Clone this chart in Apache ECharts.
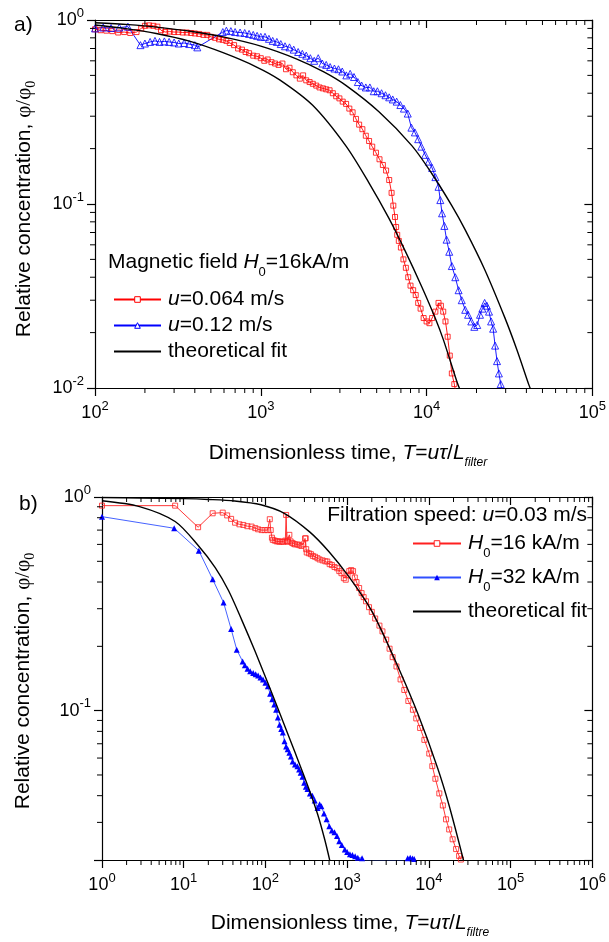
<!DOCTYPE html>
<html><head><meta charset="utf-8">
<script src="https://cdn.jsdelivr.net/npm/echarts@6/dist/echarts.min.js"></script>
<style>html,body{margin:0;padding:0;background:#fff}#c{width:609px;height:942px}</style>
</head><body><div id="c"></div>
<script>
// ---------- Panel a) : Magnetic field H0 = 16 kA/m ----------
const aRedT = [100,108,117,127,138,150,163,178,190,200,212,225,238,250,265,282,300,318,338,358,380,400,425,450,475,500,530,560,590,620,650,690,730,770,810,850,900,950,1000,1050,1100,1160,1220,1280,1350,1420,1490,1560,1640,1720,1800,1880,1970,2060,2160,2260,2370,2480,2600,2720,2850,2980,3120,3270,3420,3580,3750,3920,4100,4300,4500,4700,4950,5200,5450,5700,5950,6150,6300,6450,6550,6650,6800,7000,7250,7500,7750,8000,8300,8600,8900,9200,9600,10000,10400,10800,11300,11800,12200,12600,13000,13400,13800,14200,14700,15000];
const aRedC = [0.89,0.88,0.875,0.87,0.855,0.86,0.85,0.86,0.90,0.93,0.935,0.93,0.92,0.88,0.86,0.865,0.86,0.86,0.855,0.855,0.85,0.845,0.84,0.83,0.83,0.81,0.80,0.785,0.78,0.77,0.75,0.73,0.70,0.69,0.67,0.66,0.64,0.635,0.62,0.60,0.61,0.59,0.58,0.57,0.58,0.54,0.55,0.52,0.50,0.48,0.50,0.47,0.46,0.45,0.44,0.43,0.425,0.42,0.415,0.40,0.385,0.375,0.36,0.35,0.33,0.315,0.29,0.27,0.255,0.235,0.22,0.205,0.19,0.175,0.163,0.152,0.135,0.115,0.098,0.085,0.075,0.068,0.063,0.058,0.050,0.045,0.040,0.036,0.034,0.032,0.029,0.027,0.024,0.023,0.0225,0.024,0.026,0.029,0.028,0.026,0.023,0.019,0.015,0.012,0.0105,0.0095];
const aBlueT = [100,112,125,140,158,188,200,215,230,245,262,280,300,320,345,370,400,414,590,620,660,700,750,800,850,900,950,1000,1060,1120,1180,1250,1320,1400,1490,1580,1680,1780,1880,1990,2100,2220,2350,2480,2620,2780,2940,3100,3280,3460,3650,3850,4060,4300,4550,4800,5050,5350,5650,5950,6250,6600,6950,7300,7700,8100,8500,8900,9300,9800,10300,10800,11300,11800,12100,12400,12800,13200,13700,14200,14900,15600,16300,17100,17800,18600,19400,20200,21000,21700,22400,23100,23800,24500,25200,25900,26600,27300,28000,28600];
const aBlueC = [0.90,0.91,0.905,0.91,0.92,0.73,0.745,0.76,0.77,0.76,0.765,0.76,0.755,0.745,0.75,0.74,0.73,0.71,0.86,0.875,0.87,0.86,0.855,0.85,0.84,0.83,0.82,0.81,0.81,0.79,0.77,0.76,0.74,0.72,0.71,0.69,0.67,0.655,0.64,0.62,0.60,0.62,0.58,0.57,0.555,0.545,0.54,0.525,0.50,0.51,0.49,0.46,0.44,0.43,0.43,0.41,0.41,0.40,0.39,0.38,0.37,0.36,0.345,0.33,0.31,0.26,0.245,0.225,0.205,0.185,0.17,0.157,0.14,0.124,0.105,0.089,0.076,0.064,0.055,0.046,0.040,0.034,0.030,0.0266,0.025,0.023,0.0215,0.022,0.025,0.027,0.029,0.028,0.026,0.023,0.021,0.017,0.014,0.012,0.0105,0.0096];
const aFit1T = [100,150,234,371,592,937,1300,2056,3260,4500,5920,7450,9380,11270,12650,15300,15900];
const aFit1C = [0.940,0.900,0.845,0.767,0.664,0.557,0.473,0.344,0.207,0.130,0.0838,0.0553,0.0353,0.0240,0.0182,0.0107,0.0098];
const aFit2T = [100,160,250,376,592,1000,1637,2400,3260,5160,8170,10770,14190,17100,22400,29600,35000,41400,42500];
const aFit2C = [0.967,0.944,0.909,0.868,0.809,0.721,0.615,0.522,0.441,0.317,0.207,0.146,0.098,0.0724,0.0441,0.0242,0.0162,0.0104,0.0098];

// ---------- Panel b) : Filtration speed u = 0.03 m/s ----------
const bRedT = [1,7.85,15,22.6,30,34,38,42.5,48,53.6,60,67.6,75,81.3,90,97.8,106,113,116,120,123,130,137,143,149,158,166,175,179,183,188,196,203,212,220,230,245,260,275,290,305,311,315,320,340,360,380,405,433,460,500,540,571,610,650,700,755,800,850,910,960,1010,1060,1120,1180,1240,1300,1400,1500,1590,1700,1850,2000,2200,2480,2700,3000,3300,3600,4010,4500,5000,5600,6370,7000,7800,8800,10100,11000,12000,13400,14800,16200,17700,19500,21500,23400,24600];
const bRedC = [0.911,0.911,0.722,0.839,0.845,0.82,0.79,0.758,0.745,0.74,0.73,0.727,0.715,0.706,0.70,0.70,0.70,0.787,0.70,0.645,0.63,0.625,0.62,0.62,0.618,0.618,0.617,0.625,0.824,0.62,0.618,0.665,0.62,0.61,0.605,0.60,0.60,0.595,0.59,0.60,0.64,0.641,0.57,0.55,0.545,0.54,0.53,0.525,0.517,0.51,0.505,0.50,0.499,0.485,0.48,0.47,0.464,0.45,0.44,0.417,0.41,0.43,0.45,0.455,0.45,0.42,0.40,0.375,0.355,0.34,0.325,0.305,0.29,0.27,0.25,0.235,0.215,0.195,0.178,0.161,0.14,0.125,0.111,0.101,0.092,0.083,0.073,0.063,0.055,0.048,0.041,0.036,0.031,0.0278,0.025,0.0225,0.0209,0.0201];
const bBlueT = [1,7.64,15.3,22.6,30.7,38,44.5,52.6,56,60.4,65,70.8,76,81.3,87,93.3,100,107,114,121,128,135,142,149,156,163,171,179,187,196,205,215,230,246,258,270,284,298,312,327,350,375,400,433,460,483,520,560,604,650,700,751,800,860,935,1000,1080,1160,1250,1350,1520,1650,5250,5500,5900,6300,6600,6900];
const bBlueC = [0.809,0.714,0.561,0.412,0.321,0.241,0.193,0.17,0.163,0.157,0.153,0.15,0.148,0.146,0.143,0.14,0.135,0.13,0.12,0.113,0.107,0.101,0.093,0.086,0.082,0.079,0.072,0.068,0.066,0.0636,0.061,0.0578,0.056,0.055,0.053,0.0512,0.049,0.046,0.044,0.043,0.041,0.040,0.038,0.035,0.0365,0.0357,0.033,0.031,0.0288,0.0275,0.027,0.0259,0.0245,0.0235,0.0224,0.0218,0.0213,0.0211,0.0208,0.0205,0.0204,0.0198,0.0198,0.0204,0.0205,0.0203,0.0202,0.0198];
const bFit1T = [1,2.88,7.85,15.3,24.4,35.3,51.2,74.2,107,156,226,337,433,530,620];
const bFit1C = [0.961,0.902,0.768,0.588,0.466,0.365,0.266,0.1905,0.1346,0.0933,0.0649,0.0435,0.0329,0.0250,0.0195];
const bFit2T = [1,3,10,20,42,88,170,350,603,1043,1790,2300,4200,7340,12800,17700,26900];
const bFit2C = [0.995,0.9894,0.9824,0.974,0.9585,0.920,0.839,0.685,0.553,0.425,0.314,0.264,0.160,0.0964,0.0538,0.0359,0.0195];

// minor tick positions
const aXMinor = [200,300,400,500,600,700,800,900,2000,3000,4000,5000,6000,7000,8000,9000,20000,30000,40000,50000,60000,70000,80000,90000];
const aYMinor = [0.02,0.03,0.04,0.05,0.06,0.07,0.08,0.09,0.2,0.3,0.4,0.5,0.6,0.7,0.8,0.9];
const bXMinor = [2,3,4,5,6,7,8,9,20,30,40,50,60,70,80,90,200,300,400,500,600,700,800,900,2000,3000,4000,5000,6000,7000,8000,9000,20000,30000,40000,50000,60000,70000,80000,90000,200000,300000,400000,500000,600000,700000,800000,900000];
const bYMinor = [0.03,0.04,0.05,0.06,0.07,0.08,0.09,0.2,0.3,0.4,0.5,0.6,0.7,0.8,0.9];

const F = '"Liberation Sans", Arial, sans-serif';
const SERIF = '"Liberation Serif", "Times New Roman", serif';

function pairs(xs, ys) { return xs.map((x, i) => [x, ys[i]]); }

function powLabel(v) {
  const e = Math.log10(v);
  const r = Math.round(e);
  if (Math.abs(e - r) > 1e-6) return '';
  return '{b|10}{s|' + r + '}';
}
const tickRich = {
  b: { fontSize: 18, fontFamily: F, color: '#000' },
  s: { fontSize: 13, fontFamily: F, color: '#000', padding: [0, 0, 14, 0] }
};
const txtRich = {
  n: { fontSize: 21, fontFamily: F, color: '#000' },
  i: { fontSize: 21, fontFamily: F, fontStyle: 'italic', color: '#000' },
  sub: { fontSize: 12, fontFamily: F, fontStyle: 'italic', color: '#000', padding: [19, 0, 0, 0] },
  subn: { fontSize: 13, fontFamily: F, color: '#000', padding: [20, 0, 0, 0] },
  g: { fontSize: 21, fontFamily: SERIF, color: '#000' },
  gs: { fontSize: 14, fontFamily: SERIF, color: '#000', padding: [14, 0, 0, 0] }
};

function mainX(grid, min, max) {
  return { type: 'log', logBase: 10, gridIndex: grid, min, max, position: 'bottom',
    axisLine: { show: true, lineStyle: { color: '#000', width: 1.2 } },
    axisTick: { show: true, inside: false, length: 8, lineStyle: { color: '#000', width: 1.2 } },
    axisLabel: { show: true, formatter: powLabel, rich: tickRich, margin: 12, color: '#000' },
    splitLine: { show: false }, minorTick: { show: false } };
}
function topX(grid, min, max) {
  return { type: 'log', logBase: 10, gridIndex: grid, min, max, position: 'top',
    axisLine: { show: true, lineStyle: { color: '#000', width: 1.2 } },
    axisTick: { show: true, inside: true, length: 8, lineStyle: { color: '#000', width: 1.2 } },
    axisLabel: { show: false }, splitLine: { show: false } };
}
function mainY(grid, min, max) {
  return { type: 'log', logBase: 10, gridIndex: grid, min, max, position: 'left',
    axisLine: { show: true, lineStyle: { color: '#000', width: 1.2 } },
    axisTick: { show: true, inside: false, length: 8, lineStyle: { color: '#000', width: 1.2 } },
    axisLabel: { show: true, formatter: powLabel, rich: tickRich, margin: 11, color: '#000' },
    splitLine: { show: false } };
}
function rightY(grid, min, max) {
  return { type: 'log', logBase: 10, gridIndex: grid, min, max, position: 'right',
    axisLine: { show: true, lineStyle: { color: '#000', width: 1.2 } },
    axisTick: { show: true, inside: true, length: 8, lineStyle: { color: '#000', width: 1.2 } },
    axisLabel: { show: false }, splitLine: { show: false } };
}

function xMinorSeries(xi, yi, vals, yRef) {
  return { type: 'custom', xAxisIndex: xi, yAxisIndex: yi, silent: true, clip: false, z: 5,
    data: vals.map(v => [v, yRef]),
    renderItem: function (params, api) {
      const cs = params.coordSys;
      const px = api.coord([api.value(0), api.value(1)])[0];
      const b = cs.y + cs.height, t = cs.y;
      return { type: 'group', children: [
        { type: 'line', shape: { x1: px, y1: b, x2: px, y2: b + 5 }, style: { stroke: '#000', lineWidth: 1 } },
        { type: 'line', shape: { x1: px, y1: t, x2: px, y2: t + 5 }, style: { stroke: '#000', lineWidth: 1 } }
      ] };
    } };
}
function yMinorSeries(xi, yi, vals, xRef) {
  return { type: 'custom', xAxisIndex: xi, yAxisIndex: yi, silent: true, clip: false, z: 5,
    data: vals.map(v => [xRef, v]),
    renderItem: function (params, api) {
      const cs = params.coordSys;
      const py = api.coord([api.value(0), api.value(1)])[1];
      const l = cs.x, r = cs.x + cs.width;
      return { type: 'group', children: [
        { type: 'line', shape: { x1: l - 5, y1: py, x2: l, y2: py }, style: { stroke: '#000', lineWidth: 1 } },
        { type: 'line', shape: { x1: r - 5, y1: py, x2: r, y2: py }, style: { stroke: '#000', lineWidth: 1 } }
      ] };
    } };
}

function legendFmt(name) {
  if (name === 'fitA' || name === 'fitB') return '{n|theoretical fit}';
  if (name === 'u=0.064 m/s') return '{i|u}{n|=0.064 m/s}';
  if (name === 'u=0.12 m/s') return '{i|u}{n|=0.12 m/s}';
  if (name === 'H0=16 kA/m') return '{i|H}{subn|0}{n|=16 kA/m}';
  if (name === 'H0=32 kA/m') return '{i|H}{subn|0}{n|=32 kA/m}';
  return name;
}

const dataLine = (name, xi, yi, xs, ys, sym, size, col, filled, lcol) => ({
  type: 'line', name, xAxisIndex: xi, yAxisIndex: yi, data: pairs(xs, ys),
  symbol: sym, symbolSize: size, showSymbol: true, showAllSymbol: true, clip: true, z: 3,
  itemStyle: filled ? { color: col } : { color: 'rgba(255,255,255,0)', borderColor: col, borderWidth: 0.8 },
  lineStyle: { color: lcol || col, width: 0.9 }, emphasis: { disabled: true }
});
const fitLine = (name, xi, yi, xs, ys) => ({
  type: 'line', name, xAxisIndex: xi, yAxisIndex: yi, data: pairs(xs, ys),
  symbol: 'none', smooth: 0.3, clip: true, z: 4,
  itemStyle: { color: '#000' }, lineStyle: { color: '#000', width: 1.4 }, emphasis: { disabled: true }
});

const option = {
  animation: false,
  backgroundColor: '#fff',
  grid: [
    { left: 95, top: 20, width: 502, height: 368 },
    { left: 102, top: 497, width: 496, height: 363 }
  ],
  xAxis: [ mainX(0, 100, 100000), topX(0, 100, 100000), mainX(1, 1, 1000000), topX(1, 1, 1000000) ],
  yAxis: [ mainY(0, 0.01, 1), rightY(0, 0.01, 1), mainY(1, 0.02, 1), rightY(1, 0.02, 1) ],
  legend: [
    { data: [
        { name: 'u=0.064 m/s', itemStyle: { color: '#fff', borderColor: '#ff0000', borderWidth: 1 } },
        { name: 'u=0.12 m/s', itemStyle: { color: '#fff', borderColor: '#0000ff', borderWidth: 1 } },
        { name: 'fitA', itemStyle: { opacity: 0 } } ],
      orient: 'vertical', left: 108, top: 284,
      itemWidth: 47, itemHeight: 7, itemGap: 5, selectedMode: false, formatter: legendFmt,
      textStyle: { rich: txtRich, padding: [0, 0, 0, 2] } },
    { data: [
        { name: 'H0=16 kA/m', itemStyle: { color: '#fff', borderColor: '#ff2020', borderWidth: 1 } },
        { name: 'H0=32 kA/m' },
        { name: 'fitB', itemStyle: { opacity: 0 } } ],
      orient: 'vertical', left: 407, top: 528,
      itemWidth: 48, itemHeight: 7, itemGap: 7, selectedMode: false, formatter: legendFmt,
      textStyle: { rich: txtRich, padding: [0, 0, 0, 2] } }
  ],
  graphic: [
    { type: 'text', x: 14, y: 25, style: { text: 'a)', font: '21px ' + F, fill: '#000', align: 'left', verticalAlign: 'middle' } },
    { type: 'text', x: 19, y: 504, style: { text: 'b)', font: '21px ' + F, fill: '#000', align: 'left', verticalAlign: 'middle' } },
    { type: 'text', x: 348, y: 453, style: { text: '{n|Dimensionless time, }{i|T}{n|=}{i|uτ}{n|/}{i|L}{sub|filter}', rich: txtRich, align: 'center', verticalAlign: 'middle' } },
    { type: 'text', x: 350, y: 923, style: { text: '{n|Dimensionless time, }{i|T}{n|=}{i|uτ}{n|/}{i|L}{sub|filtre}', rich: txtRich, align: 'center', verticalAlign: 'middle' } },
    { type: 'text', x: 24, y: 209, rotation: Math.PI / 2, style: { text: '{n|Relative concentration, }{g|φ/φ}{gs|0}', rich: txtRich, align: 'center', verticalAlign: 'middle' } },
    { type: 'text', x: 23, y: 681, rotation: Math.PI / 2, style: { text: '{n|Relative concentration, }{g|φ/φ}{gs|0}', rich: txtRich, align: 'center', verticalAlign: 'middle' } },
    { type: 'text', x: 108, y: 262, style: { text: '{n|Magnetic field }{i|H}{subn|0}{n|=16kA/m}', rich: txtRich, align: 'left', verticalAlign: 'middle' } },
    { type: 'text', x: 587, y: 515, style: { text: '{n|Filtration speed: }{i|u}{n|=0.03 m/s}', rich: txtRich, align: 'right', verticalAlign: 'middle' } }
  ],
  series: [
    dataLine('u=0.064 m/s', 0, 0, aRedT, aRedC, 'rect', 5, '#ff0000', false),
    dataLine('u=0.12 m/s', 0, 0, aBlueT, aBlueC, 'triangle', 7, '#0000ff', false),
    fitLine('fitA', 0, 0, aFit1T, aFit1C),
    fitLine('fitA', 0, 0, aFit2T, aFit2C),
    dataLine('H0=16 kA/m', 2, 2, bRedT, bRedC, 'rect', 5, '#ff2020', false),
    dataLine('H0=32 kA/m', 2, 2, bBlueT, bBlueC, 'triangle', 6, '#0000ff', true, '#3050ff'),
    fitLine('fitB', 2, 2, bFit1T, bFit1C),
    fitLine('fitB', 2, 2, bFit2T, bFit2C),
    xMinorSeries(0, 0, aXMinor, 1),
    yMinorSeries(0, 0, aYMinor, 100),
    xMinorSeries(2, 2, bXMinor, 1),
    yMinorSeries(2, 2, bYMinor, 1)
  ]
};
const chart = echarts.init(document.getElementById('c'), null, { renderer: 'canvas' });
chart.setOption(option);
</script>
</body></html>
